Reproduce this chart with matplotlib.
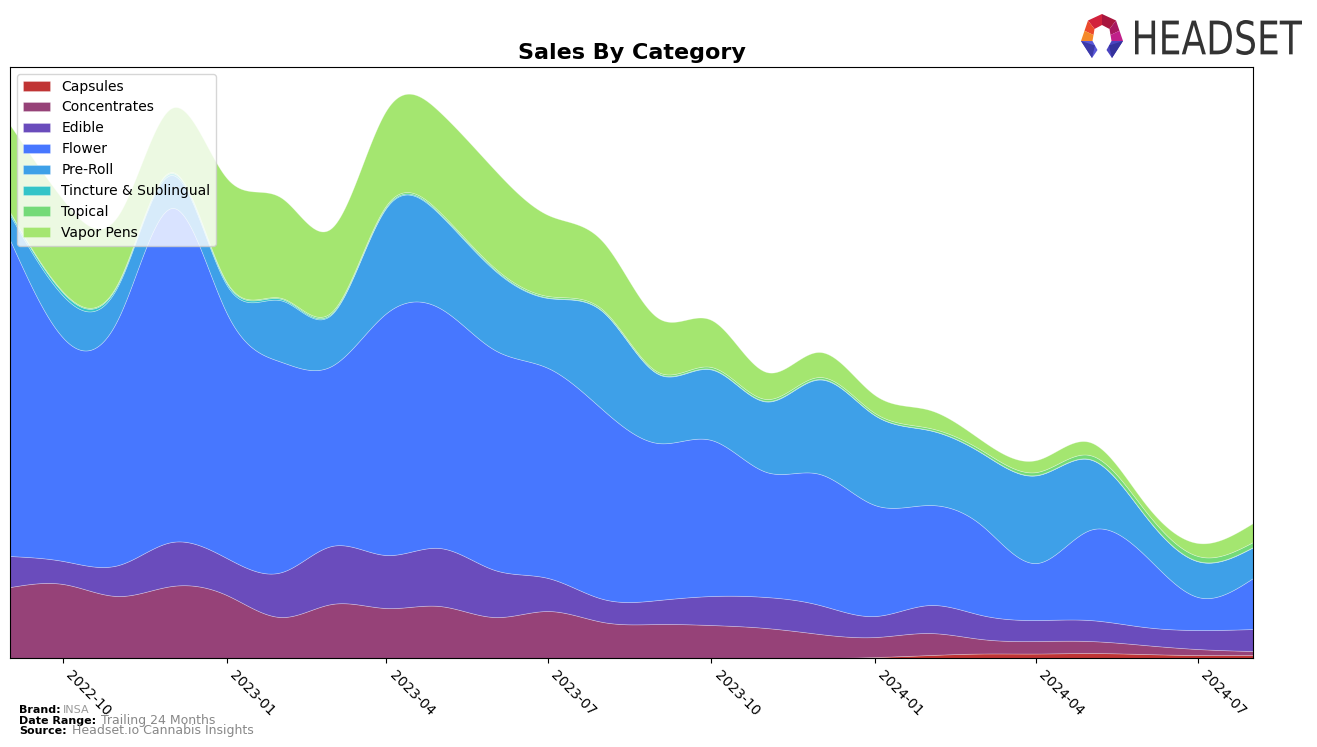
import numpy as np
import matplotlib
matplotlib.use('Agg')
import matplotlib.pyplot as plt
import matplotlib.dates as mdates
from matplotlib.patches import Polygon, PathPatch
from matplotlib.textpath import TextPath
from matplotlib.font_manager import FontProperties
from matplotlib.transforms import Affine2D
import datetime as dt

# monthly data, 2022-09 .. 2024-08
months = [dt.date(2022 + (8 + i) // 12, (8 + i) % 12 + 1, 1) for i in range(24)]

capsules = [0, 0, 0, 0, 0, 0, 0, 0, 0, 0, 0, 0, 0, 0, 0, 0,
            1, 3, 4.5, 4.5, 5, 4, 3, 3]
concentrates = [71, 74, 62, 72, 63, 41, 54, 50, 52, 41, 47, 36, 34, 33, 30, 24,
                20, 22, 14.5, 12.5, 12, 9, 6, 4]
edible = [31, 23, 31, 44, 37, 45, 58, 53, 58, 47, 33, 23, 24, 29, 31, 29,
          21, 28, 24, 21, 21, 18, 19, 22]
flower = [316, 223, 247, 334, 245, 210, 180, 242, 240, 220, 210, 189, 157, 156, 125, 131,
          111, 100, 90, 57, 90, 72, 33, 51]
pre_roll = [25, 42, 33, 33, 28, 61.5, 51.5, 105.5, 93.5, 79.5, 70, 98, 69, 70.5, 70.5, 94.5,
            89.7, 74.7, 72.2, 87.7, 70.7, 39.7, 35.7, 30.7]
tincture = [2, 3, 2, 2, 2, 1.5, 1, 1, 1, 1, 0.5, 0.5, 0.5, 0.5, 0.5, 0.5,
            0.3, 0.3, 0.3, 0.3, 0.3, 0.3, 0.3, 0.3]
topical = [1, 1, 1, 1, 1, 1, 1.5, 1.5, 1.5, 1.5, 1.5, 1.5, 1.5, 2, 2, 2,
           2, 2, 2.5, 3, 4, 5, 5, 5]
vapor_pens = [87, 92, 67, 64, 104, 100, 84, 95, 100, 98, 81, 68, 54, 47, 27, 25,
              18, 18, 10, 12, 13, 7, 13, 19]

labels = ['Capsules', 'Concentrates', 'Edible', 'Flower', 'Pre-Roll',
          'Tincture & Sublingual', 'Topical', 'Vapor Pens']
colors = ['#c03434', '#964278', '#6a4cbc', '#4777ff', '#3ea0e8',
          '#33c4c8', '#74da78', '#a4e670']


def smooth(x, y, n=800):
    # natural cubic spline
    x = np.asarray(x, float)
    y = np.asarray(y, float)
    k = len(x)
    h = np.diff(x)
    A = np.zeros((k, k))
    r = np.zeros(k)
    A[0, 0] = 1
    A[-1, -1] = 1
    for i in range(1, k - 1):
        A[i, i - 1] = h[i - 1]
        A[i, i] = 2 * (h[i - 1] + h[i])
        A[i, i + 1] = h[i]
        r[i] = 3 * ((y[i + 1] - y[i]) / h[i] - (y[i] - y[i - 1]) / h[i - 1])
    c = np.linalg.solve(A, r)
    b = (y[1:] - y[:-1]) / h - h * (2 * c[:-1] + c[1:]) / 3
    d = (c[1:] - c[:-1]) / (3 * h)
    xs = np.linspace(x[0], x[-1], n)
    j = np.clip(np.searchsorted(x, xs) - 1, 0, k - 2)
    t = xs - x[j]
    ys = y[j] + b[j] * t + c[j] * t ** 2 + d[j] * t ** 3
    return xs, np.clip(ys, 0, None)


xnum = mdates.date2num(months)
series = [capsules, concentrates, edible, flower, pre_roll, tincture, topical, vapor_pens]
smoothed = []
for s in series:
    xs, ys = smooth(xnum, s)
    smoothed.append(ys)

W, H = 1317, 747
fig = plt.figure(figsize=(W / 100, H / 100), dpi=100)
ax = fig.add_axes([0.0076, 0.1191, 0.9438, 0.7912])

ax.stackplot(mdates.num2date(xs), smoothed, labels=labels, colors=colors,
             edgecolor=(1, 1, 1, 0.35), linewidth=0.5)

ax.set_xlim(mdates.num2date(xnum[0]), mdates.num2date(xnum[-1]))
ax.set_ylim(0, 591)
ax.set_yticks([])
ax.xaxis.set_major_locator(mdates.MonthLocator(bymonth=[1, 4, 7, 10]))
ax.xaxis.set_major_formatter(mdates.DateFormatter('%Y-%m'))
plt.setp(ax.get_xticklabels(), rotation=-45, ha='left', fontsize=10)
ax.set_title('Sales By Category', fontsize=16, fontweight='bold', pad=6)

ax.legend(loc='upper left', fontsize=10, borderaxespad=0.5)

# footer
fig.text(0.0144, 0.045, 'Brand:', fontsize=8, fontweight='bold')
fig.text(0.048, 0.045, 'INSA', fontsize=8, color='#999999')
fig.text(0.0144, 0.031, 'Date Range:', fontsize=8, fontweight='bold')
fig.text(0.077, 0.031, 'Trailing 24 Months', fontsize=9, color='#888888')
fig.text(0.0144, 0.017, 'Source:', fontsize=8, fontweight='bold')
fig.text(0.0545, 0.017, 'Headset.io Cannabis Insights', fontsize=9, color='#888888')


# logo (pixel coords, y down)
def px(pts):
    return [(p[0] / W, 1 - p[1] / H) for p in pts]


T, UL, UR = (1102, 14), (1088, 20.5), (1116, 20.5)
L, R, FL, FR = (1081, 41), (1123, 41), (1092, 58), (1112, 58)
iT, iUL, iUR = (1102, 25), (1094.5, 29), (1109.5, 29)
iL, iR, iFL, iFR = (1092.5, 41), (1111.5, 41), (1097.5, 50), (1106.5, 50)


def mid(a, b):
    return ((a[0] + b[0]) / 2, (a[1] + b[1]) / 2)


logo_parts = [
    ([T, iT, iUL, UL], '#d2223c'),
    ([T, UR, iUR, iT], '#a8163e'),
    ([UL, iUL, mid(iUL, iL), mid(UL, L)], '#ec4a2c'),
    ([mid(UL, L), mid(iUL, iL), iL, L], '#f58a2a'),
    ([UR, mid(UR, R), mid(iUR, iR), iUR], '#a81860'),
    ([mid(UR, R), R, iR, mid(iUR, iR)], '#c0208a'),
    ([L, iL, iFL, FL], '#5a58d8'),
    ([L, mid(iL, iFL), FL], '#3c3aa8'),
    ([R, FR, iFR, iR], '#4a44c0'),
    ([R, mid(iR, iFR), FR], '#34329c'),
]
for pts, col in logo_parts:
    fig.patches.append(Polygon(px(pts), closed=True, color=col, lw=0,
                               transform=fig.transFigure))

tp = TextPath((0, 0), 'HEADSET', size=1, prop=FontProperties(family='DejaVu Sans'))
ext = tp.get_extents()
x0, x1, ytop, ybot = 1135, 1302, 20, 55
sx = (x1 - x0) / ext.width
sy = (ybot - ytop) / ext.height
tr = (Affine2D().translate(-ext.x0, -ext.y0).scale(sx, sy)
      .translate(x0, H - ybot).scale(1 / W, 1 / H) + fig.transFigure)
fig.patches.append(PathPatch(tp, transform=tr, color='#333333', lw=0))

fig.savefig('out.png', dpi=100)
